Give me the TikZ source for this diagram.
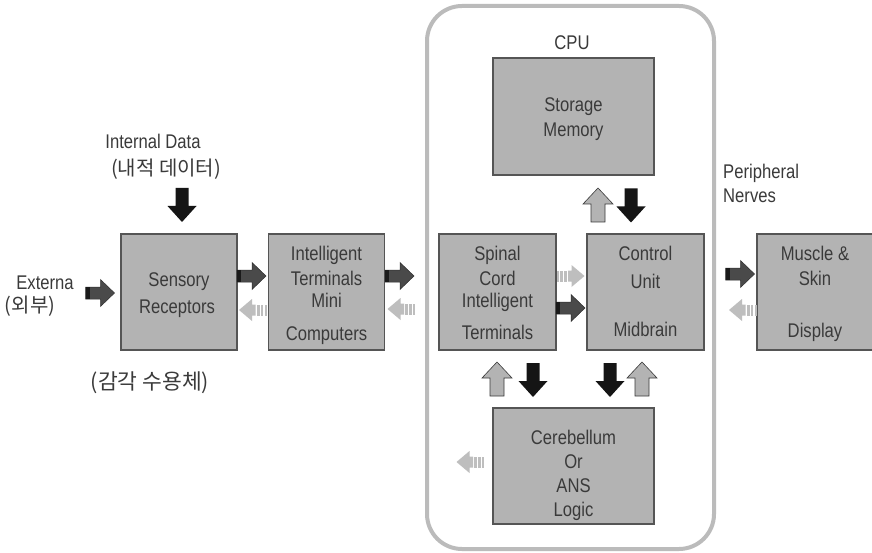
\documentclass[tikz,border=0pt]{standalone}
\usepackage{fontspec}
\setmainfont{Liberation Sans}[FakeStretch=0.84]
\newfontfamily\krfont{Noto Sans CJK KR}
\definecolor{boxfill}{HTML}{B3B3B3}
\definecolor{boxline}{HTML}{555555}
\definecolor{txt}{HTML}{3A3A3A}
\definecolor{darkar}{HTML}{4A4A4A}
\definecolor{darkedge}{HTML}{2E2E2E}
\definecolor{tailar}{HTML}{1A1A1A}
\definecolor{stripar}{HTML}{BEBEBE}
\definecolor{upedge}{HTML}{3A3A3A}
\definecolor{blk}{HTML}{151515}
\definecolor{cpuline}{HTML}{BBBBBB}
\newcommand\mylfont{\fontsize{19.8}{22}\selectfont}
\newcommand\mykfont{\krfont\fontsize{20}{24}\selectfont}
\tikzset{
 box/.style={draw=boxline, fill=boxfill, line width=1.2pt, minimum width=116pt, minimum height=116pt, inner sep=0pt},
 widebox/.style={box, minimum width=161pt, minimum height=117pt},
 cpubox/.style={draw=cpuline, line width=4pt, rounded corners=35pt, minimum width=287pt, minimum height=543pt, inner sep=0pt},
 lbl/.style={text=txt, font=\mylfont, inner sep=0pt, anchor=base},
 klbl/.style={text=txt, font=\mykfont, inner sep=0pt},
 pics/darkright/.style={code={
   \filldraw[fill=darkar, draw=darkedge, line width=0.5pt] (-14.5,-6) -- (0.5,-6) -- (0.5,-13.5) -- (14.5,0) -- (0.5,13.5) -- (0.5,6) -- (-14.5,6) -- cycle;
   \fill[tailar] (-14.5,-6) rectangle (-10.5,6);
 }},
 pics/stripeleft/.style={code={
   \fill[stripar] (-14.5,0) -- (-1.5,-11) -- (-1.5,-5.5) -- (2,-5.5) -- (2,5.5) -- (-1.5,5.5) -- (-1.5,11) -- cycle;
   \fill[stripar] (3.2,-5.5) rectangle (6.2,5.5);
   \fill[stripar] (7.4,-5.5) rectangle (9.9,5.5);
   \fill[stripar] (11.1,-5.5) rectangle (13.3,5.5);
 }},
 pics/grayup/.style={code={
   \filldraw[fill=boxfill, draw=upedge, line width=0.6pt] (0,-17) -- (15,-1) -- (7,-1) -- (7,17) -- (-7,17) -- (-7,-1) -- (-15,-1) -- cycle;
 }},
 pics/blackdown/.style={code={
   \fill[blk] (-6.5,-17) -- (6.5,-17) -- (6.5,1) -- (14.5,1) -- (0,17) -- (-14.5,1) -- (-6.5,1) -- cycle;
 }},
}
\begin{document}
\begin{tikzpicture}[x=1pt,y=-1pt]
\useasboundingbox (0,0) rectangle (872,553);
\fill[white] (0,0) rectangle (872,553);

% CPU frame
\node[cpubox] (cpu) at (570.5,277.5) {};
\node[lbl] (cputxt) at (572,50) {CPU};

% boxes
\node[widebox] (storage) at (573.5,116.5) {};
\node[box] (sens) at (179,292) {};
\node[box] (intel) at (326.5,292) {};
\node[box, minimum width=117pt] (spinal) at (497.5,292) {};
\node[box, minimum width=117pt] (control) at (645.5,292) {};
\node[box] (muscle) at (815,292) {};
\node[widebox, minimum height=116pt] (cereb) at (573.5,466) {};

% texts
\node[lbl] (st1) at (573.5,112) {Storage};
\node[lbl] (st2) at (573.5,137) {Memory};

\node[lbl] (idata) at (153,149) {Internal Data};
\node[klbl] (idatak) at (166,169) {(내적 데이터)};

\node[lbl] (ext) at (45,289) {Externa};
\node[klbl] (extk) at (30,306) {(외부)};

\node[lbl] (se1) at (179,287) {Sensory};
\node[lbl] (se2) at (177,313) {Receptors};
\node[klbl, font=\krfont\fontsize{21.5}{24}\selectfont] (sek) at (150,383) {(감각 수용체)};

\node[lbl] (in1) at (326.5,260) {Intelligent};
\node[lbl] (in2) at (326.5,285) {Terminals};
\node[lbl] (in3) at (326.5,307) {Mini};
\node[lbl] (in4) at (326.5,340) {Computers};

\node[lbl] (sp1) at (497.5,260) {Spinal};
\node[lbl] (sp2) at (497.5,285) {Cord};
\node[lbl] (sp3) at (497.5,307) {Intelligent};
\node[lbl] (sp4) at (497.5,339) {Terminals};

\node[lbl] (co1) at (645.5,261) {Control};
\node[lbl] (co2) at (645.5,288) {Unit};
\node[lbl] (co3) at (645.5,336) {Midbrain};

\node[lbl] (mu1) at (815,260) {Muscle \&};
\node[lbl] (mu2) at (815,285) {Skin};
\node[lbl] (mu3) at (815,337) {Display};

\node[lbl, anchor=base west] (pn1) at (723,179) {Peripheral};
\node[lbl, anchor=base west] (pn2) at (723,203) {Nerves};

\node[lbl] (ce1) at (573.5,444) {Cerebellum};
\node[lbl] (ce2) at (573.5,468) {Or};
\node[lbl] (ce3) at (573.5,492) {ANS};
\node[lbl] (ce4) at (573.5,516) {Logic};

% block arrows
\pic at (100,293) {darkright};
\pic at (251.5,276) {darkright};
\pic at (253.5,310) {stripeleft};
\pic at (399.5,276) {darkright};
\pic at (402,309) {stripeleft};
\pic[xscale=-1] at (570,276) {stripeleft};
\pic at (570.5,308) {darkright};
\pic at (740,274) {darkright};
\pic at (743.5,310) {stripeleft};
\pic at (471,462) {stripeleft};

\pic at (182,205) {blackdown};
\pic at (598,205) {grayup};
\pic at (631,205.5) {blackdown};
\pic at (497,379) {grayup};
\pic at (533,380) {blackdown};
\pic at (610,380) {blackdown};
\pic at (642,379) {grayup};
\end{tikzpicture}
\end{document}
